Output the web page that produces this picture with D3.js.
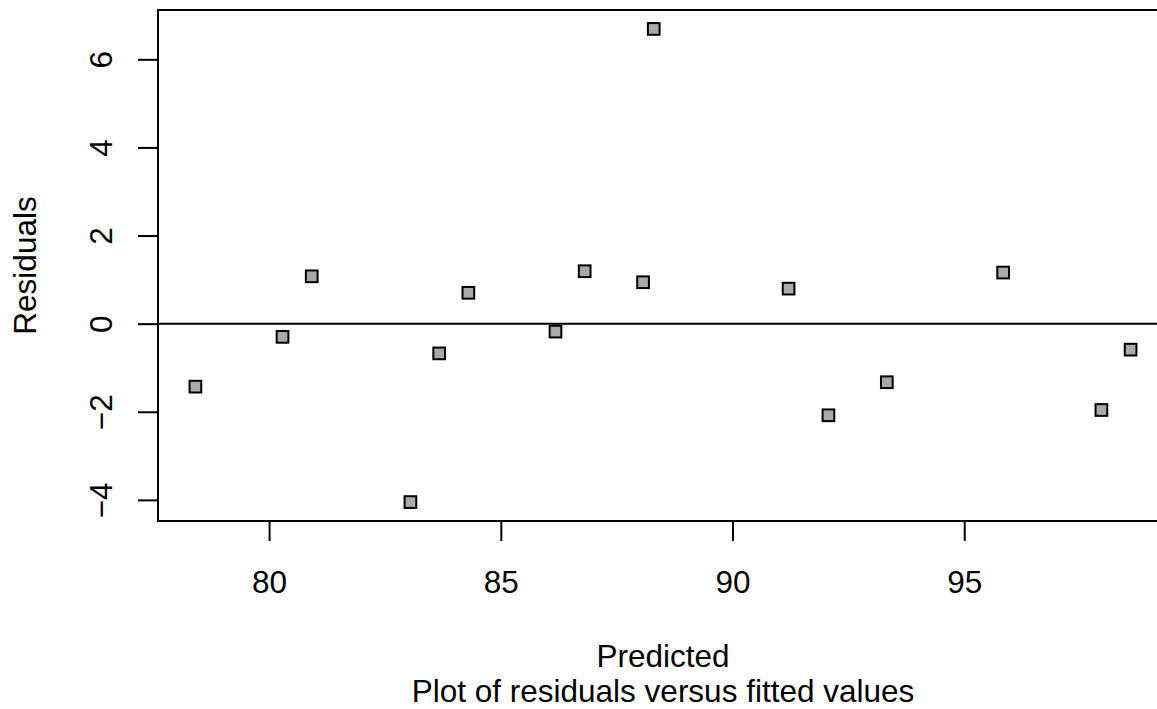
<!DOCTYPE html>
<html>
<head>
<meta charset="utf-8">
<script src="https://cdn.jsdelivr.net/npm/d3@7"></script>
<style>
  html, body { margin: 0; padding: 0; background: #ffffff; overflow: hidden; }
  svg { display: block; }
  text { font-family: "Liberation Sans", Arial, Helvetica, sans-serif; fill: #000; }
</style>
</head>
<body>
<svg id="chart" width="1157" height="709"></svg>
<script>
// Data
const predicted = [78.41, 80.29, 80.92, 83.05, 83.67, 84.30, 86.18, 86.81, 88.07, 88.30, 91.21, 92.07, 93.33, 95.84, 97.96, 98.59];
const residuals = [-1.43, -0.30, 1.075, -4.05, -0.675, 0.70, -0.18, 1.19, 0.94, 6.69, 0.795, -2.08, -1.33, 1.16, -1.96, -0.59];
const xTicks = [80, 85, 90, 95];
const yTicks = [-4, -2, 0, 2, 4, 6];
const xLabel = "Predicted";
const yLabel = "Residuals";
const subTitle = "Plot of residuals versus fitted values";

const W = 1157, H = 709;
const plot = { left: 158, top: 10, right: 1168, bottom: 521 };
const fontSize = 31.5;

// R-style 4% padding
function pad(ext) { const d = (ext[1] - ext[0]) * 0.04; return [ext[0] - d, ext[1] + d]; }
const x = d3.scaleLinear().domain(pad(d3.extent(predicted))).range([plot.left, plot.right]);
const y = d3.scaleLinear().domain(pad(d3.extent(residuals))).range([plot.bottom, plot.top]);

const svg = d3.select("#chart");
const fmt = v => (v < 0 ? "\u2212" + Math.abs(v) : String(v));

// zero reference line
svg.append("line")
  .attr("x1", plot.left).attr("x2", plot.right)
  .attr("y1", y(0)).attr("y2", y(0))
  .attr("stroke", "#000").attr("stroke-width", 2);

// points (filled squares)
const s = 11.7;
svg.append("g").selectAll("rect")
  .data(predicted.map((p, i) => ({ p, r: residuals[i] })))
  .join("rect")
  .attr("x", d => x(d.p) - s / 2)
  .attr("y", d => y(d.r) - s / 2)
  .attr("width", s).attr("height", s)
  .attr("fill", "#a9a9a9")
  .attr("stroke", "#000").attr("stroke-width", 2);

// box
svg.append("rect")
  .attr("x", plot.left).attr("y", plot.top)
  .attr("width", plot.right - plot.left).attr("height", plot.bottom - plot.top)
  .attr("fill", "none").attr("stroke", "#000").attr("stroke-width", 2);

// x axis
const xAxis = d3.axisBottom(x).tickValues(xTicks).tickSize(20).tickPadding(0).tickFormat(fmt);
const gx = svg.append("g").attr("transform", `translate(0,${plot.bottom})`).call(xAxis);
gx.select(".domain").remove();
gx.selectAll(".tick line").attr("stroke", "#000").attr("stroke-width", 2);
gx.selectAll(".tick text")
  .attr("y", 593 - plot.bottom).attr("dy", null)
  .style("font-size", fontSize + "px").style("font-family", "'Liberation Sans', Arial, sans-serif")
  .attr("fill", "#000");

// y axis
const yAxis = d3.axisLeft(y).tickValues(yTicks).tickSize(20).tickPadding(0).tickFormat(fmt);
const gy = svg.append("g").attr("transform", `translate(${plot.left},0)`).call(yAxis);
gy.select(".domain").remove();
gy.selectAll(".tick line").attr("stroke", "#000").attr("stroke-width", 2);
gy.selectAll(".tick text")
  .attr("x", null).attr("dy", null)
  .attr("text-anchor", "middle")
  .attr("transform", `translate(${112 - plot.left},0) rotate(-90)`)
  .style("font-size", fontSize + "px").style("font-family", "'Liberation Sans', Arial, sans-serif")
  .attr("fill", "#000");

// labels
const cx = (plot.left + plot.right) / 2;
const cy = (plot.top + plot.bottom) / 2;
svg.append("text").attr("x", cx).attr("y", 667).attr("text-anchor", "middle")
  .style("font-size", fontSize + "px").text(xLabel);
svg.append("text").attr("x", cx).attr("y", 702).attr("text-anchor", "middle")
  .style("font-size", fontSize + "px").text(subTitle);
svg.append("text").attr("transform", `translate(36,${cy}) rotate(-90)`).attr("text-anchor", "middle")
  .style("font-size", fontSize + "px").text(yLabel);
</script>
</body>
</html>
